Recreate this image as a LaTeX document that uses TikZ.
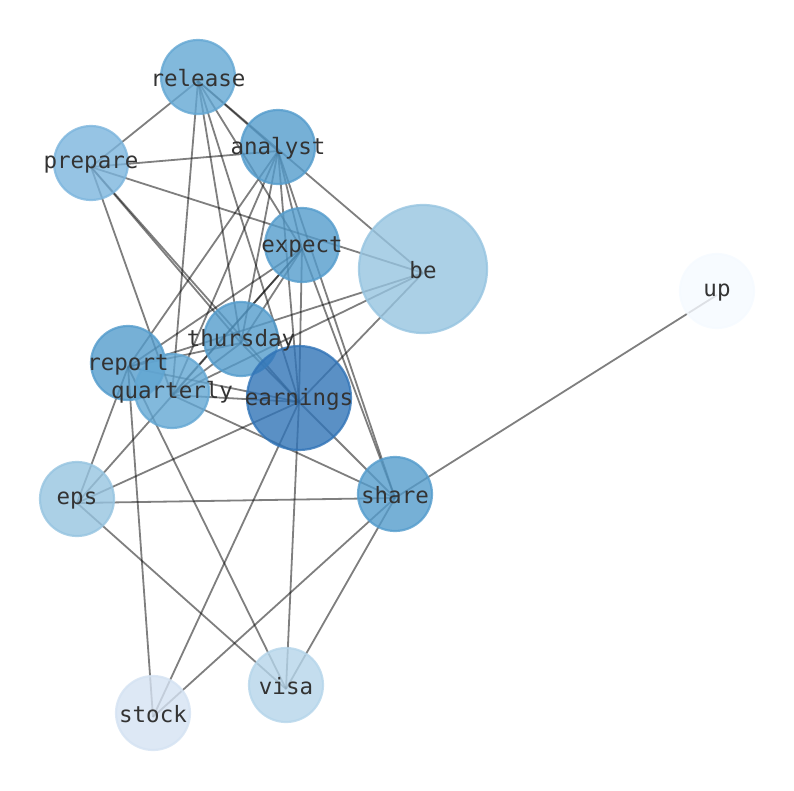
\documentclass[tikz,border=0pt]{standalone}
\usepackage{fontspec}
\setmonofont{DejaVu Sans Mono}
\definecolor{cE}{RGB}{49,116,183}
\definecolor{cA}{RGB}{84,156,204}
\definecolor{cR}{RGB}{99,167,211}
\definecolor{cP}{RGB}{124,181,221}
\definecolor{cB}{RGB}{150,196,224}
\definecolor{cV}{RGB}{181,213,234}
\definecolor{cS}{RGB}{212,226,242}
\definecolor{cU}{RGB}{245,250,255}
\definecolor{txt}{RGB}{51,51,51}
\begin{document}
\begin{tikzpicture}[x=1pt,y=-1pt,
  vtx/.style={circle, inner sep=0pt, minimum size=74pt, line width=2.2pt, fill=#1, draw=#1, fill opacity=0.8, draw opacity=0.8},
  big/.style={minimum size=104pt},
  huge/.style={minimum size=128pt},
  lbl/.style={inner sep=0pt, text=txt, font=\ttfamily\fontsize{22.5}{22.5}\selectfont},
  lnk/.style={draw=black, draw opacity=0.5, line width=1.8pt}]
\useasboundingbox (0,0) rectangle (794,790);
\newcommand{\E}[2]{\draw[lnk] ([yshift=-4pt]#1.center) -- ([yshift=-4pt]#2.center);}
\path
  (198,77) coordinate (release)
  (278,147) coordinate (analyst)
  (91,163) coordinate (prepare)
  (302,245) coordinate (expect)
  (423,269) coordinate (be)
  (717,291) coordinate (up)
  (241,339) coordinate (thursday)
  (128,363) coordinate (report)
  (172,391) coordinate (quarterly)
  (299,398) coordinate (earnings)
  (77,499) coordinate (eps)
  (395,494) coordinate (share)
  (286,685) coordinate (visa)
  (153,713) coordinate (stock);
% edges
\E{release}{prepare}\E{release}{analyst}\E{release}{be}\E{release}{quarterly}
\E{release}{thursday}\E{release}{earnings}\E{release}{expect}
\E{prepare}{analyst}\E{prepare}{be}\E{prepare}{quarterly}\E{prepare}{thursday}\E{prepare}{earnings}
\E{analyst}{report}\E{analyst}{quarterly}\E{analyst}{thursday}\E{analyst}{earnings}
\E{analyst}{expect}\E{analyst}{share}
\E{expect}{thursday}\E{expect}{quarterly}\E{expect}{report}\E{expect}{earnings}\E{expect}{share}\E{expect}{eps}
\E{be}{report}\E{be}{quarterly}\E{be}{earnings}
\E{thursday}{quarterly}\E{thursday}{report}\E{thursday}{earnings}
\E{report}{earnings}\E{report}{eps}\E{report}{stock}\E{report}{visa}
\E{quarterly}{earnings}\E{quarterly}{share}
\E{earnings}{share}\E{earnings}{eps}\E{earnings}{visa}\E{earnings}{stock}
\E{eps}{share}\E{eps}{visa}
\E{share}{up}\E{share}{visa}\E{share}{stock}
% circles
\node[vtx=cR] (n-release) at (release) {};
\node[vtx=cA] (n-analyst) at (analyst) {};
\node[vtx=cP] (n-prepare) at (prepare) {};
\node[vtx=cA] (n-expect) at (expect) {};
\node[vtx=cB, huge] (n-be) at (be) {};
\node[vtx=cU] (n-up) at (up) {};
\node[vtx=cA] (n-thursday) at (thursday) {};
\node[vtx=cA] (n-report) at (report) {};
\node[vtx=cR] (n-quarterly) at (quarterly) {};
\node[vtx=cE, big] (n-earnings) at (earnings) {};
\node[vtx=cB] (n-eps) at (eps) {};
\node[vtx=cA] (n-share) at (share) {};
\node[vtx=cV] (n-visa) at (visa) {};
\node[vtx=cS] (n-stock) at (stock) {};
% labels
\foreach \n in {release,analyst,prepare,expect,be,up,thursday,report,quarterly,earnings,eps,share,visa,stock}
  \node[lbl] (l-\n) at ([yshift=-1.5pt]\n) {\n};
\end{tikzpicture}
\end{document}
